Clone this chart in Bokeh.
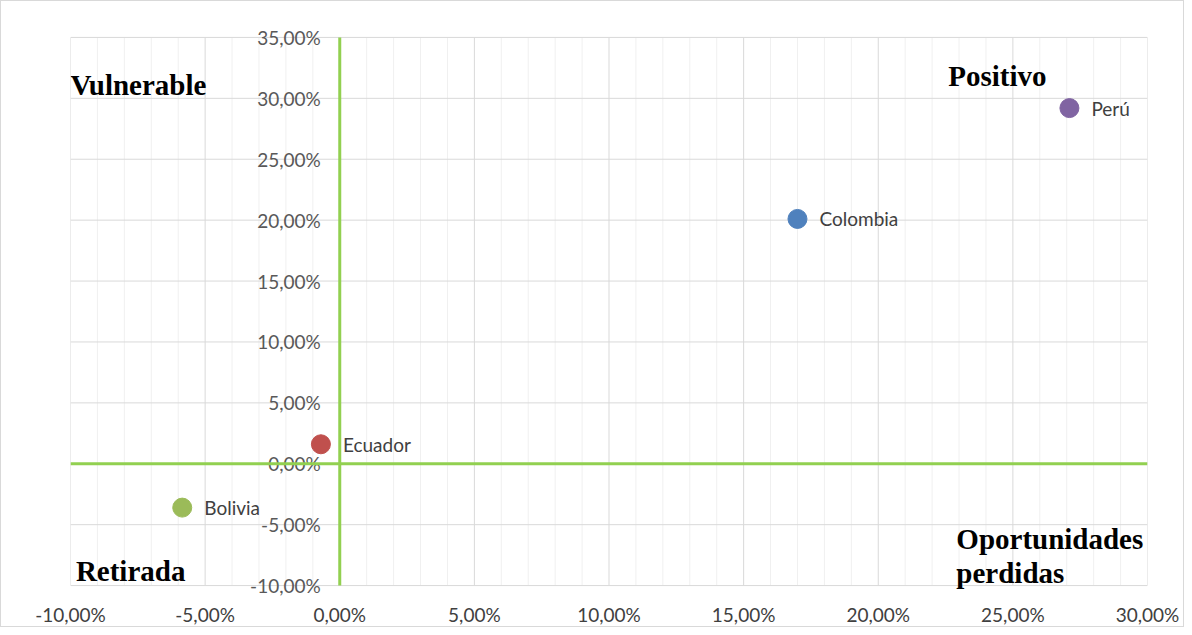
from bokeh.plotting import figure
from bokeh.models import Range1d, FixedTicker, ColumnDataSource
from bokeh.core.properties import value
from bokeh.embed import file_html
from bokeh.resources import INLINE

# Data (percent)
countries = ["Perú", "Colombia", "Ecuador", "Bolivia"]
x_vals = [27.1, 17.0, -0.7, -5.85]
y_vals = [29.2, 20.1, 1.6, -3.6]
colors = ["#8064A2", "#4F81BD", "#C0504D", "#9BBB59"]

x_lim = [-10, 30]
y_lim = [-10, 35]
x_ticks = [-10, -5, 0, 5, 10, 15, 20, 25, 30]
x_tick_labels = ["-10,00%", "-5,00%", "0,00%", "5,00%", "10,00%", "15,00%", "20,00%", "25,00%", "30,00%"]
y_ticks = [-10, -5, 0, 5, 10, 15, 20, 25, 30, 35]
y_tick_labels = ["-10,00%", "-5,00%", "0,00%", "5,00%", "10,00%", "15,00%", "20,00%", "25,00%", "30,00%", "35,00%"]
x_minor = [v for v in range(-10, 31) if v % 5 != 0]

quad_text = ["Vulnerable", "Positivo", "Retirada", "Oportunidades", "perdidas"]
quad_x = [-10.0, 22.6, -9.8, 22.9, 22.9]
quad_y = [31.1, 31.8, -8.8, -6.2, -9.0]

pad_top = 1.226
pad_bottom = 0.897
p = figure(width=1184, height=627, output_backend="svg", toolbar_location=None,
           x_range=Range1d(x_lim[0], x_lim[1]),
           y_range=Range1d(y_lim[0] - pad_bottom, y_lim[1] + pad_top),
           min_border_left=69, min_border_right=38, min_border_top=21, min_border_bottom=25)
p.styles = {"border": "1px solid #d9d9d9"}
p.outline_line_color = None
p.xgrid.visible = False
p.ygrid.visible = False

# x axis
p.xaxis.ticker = FixedTicker(ticks=x_ticks)
p.xaxis.major_label_overrides = {t: l for t, l in zip(x_ticks, x_tick_labels)}
p.xaxis.axis_line_color = None
p.xaxis.major_tick_line_color = None
p.xaxis.minor_tick_line_color = None
p.xaxis.major_label_text_font = "Lato"
p.xaxis.major_label_text_font_size = "19px"
p.xaxis.major_label_text_color = "#404040"
p.xaxis.major_label_standoff = 0
p.yaxis.visible = False

# grid drawn inside the data limits
p.segment(x0=x_minor, y0=[y_lim[0]] * len(x_minor), x1=x_minor, y1=[y_lim[1]] * len(x_minor),
          line_color="#f0f0f0", line_width=1)
p.segment(x0=x_ticks, y0=[y_lim[0]] * len(x_ticks), x1=x_ticks, y1=[y_lim[1]] * len(x_ticks),
          line_color="#d9d9d9", line_width=1)
p.segment(x0=[x_lim[0]] * len(y_ticks), y0=y_ticks, x1=[x_lim[1]] * len(y_ticks), y1=y_ticks,
          line_color="#d9d9d9", line_width=1)

# y tick labels at x = 0
ysrc = ColumnDataSource(dict(x=[0] * len(y_ticks), y=y_ticks, t=y_tick_labels))
p.text(x="x", y="y", text="t", source=ysrc, x_offset=-19, text_align="right",
       text_baseline="middle", text_font=value("Lato"), text_font_size="19px",
       text_color="#595959")

# green quadrant lines
p.segment(x0=[0, x_lim[0]], y0=[y_lim[0], 0], x1=[0, x_lim[1]], y1=[y_lim[1], 0],
          line_color="#92D050", line_width=3)

src = ColumnDataSource(dict(x=x_vals, y=y_vals, c=colors, name=countries))
p.scatter("x", "y", source=src, size=19, fill_color="c", line_color="c")
p.text(x="x", y="y", text="name", source=src, x_offset=22, text_baseline="middle",
       text_font=value("Lato"), text_font_size="19px", text_color="#404040")

qsrc = ColumnDataSource(dict(x=quad_x, y=quad_y, t=quad_text))
p.text(x="x", y="y", text="t", source=qsrc, text_baseline="middle",
       text_font=value("Liberation Serif"), text_font_size="29px",
       text_font_style="bold", text_color="#000000")

open("out.html", "w").write(file_html(p, INLINE))
